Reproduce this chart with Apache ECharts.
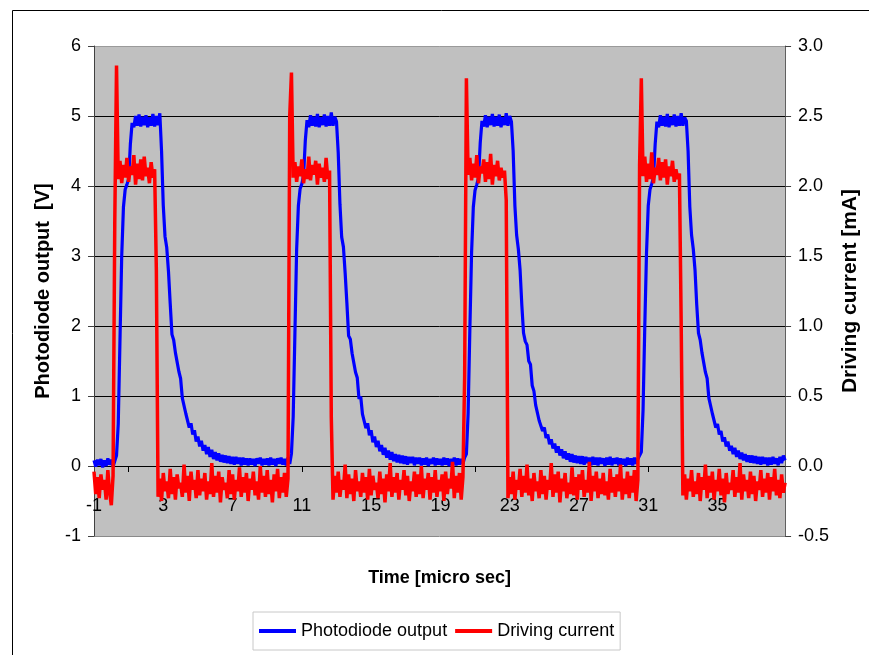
<!DOCTYPE html>
<html>
<head>
<meta charset="utf-8">
<title>Photodiode output / Driving current</title>
<script src="https://cdn.jsdelivr.net/npm/echarts@6.0.0/dist/echarts.min.js"></script>
<style>
  html, body { margin: 0; padding: 0; background: #fff; }
  #chart { width: 869px; height: 655px; }
</style>
</head>
<body>
<div id="chart"></div>
<script>
// time axis: -1.0 .. 38.9 micro sec, one sample every 0.1
var timeStart = -1;
var timeStep = 0.1;
var sampleCount = 400;

// photodiode output [V], 10 samples (1 micro sec) per line
var photodiode = [
  0.08, -0.01, 0.09, 0.01, 0.10, -0.02, 0.08, 0.00, 0.11, 0.02,
  0.09, -0.01, 0.07, 0.15, 0.60, 1.80, 3.00, 3.70, 3.95, 4.02,
  4.10, 4.60, 4.90, 4.84, 5.00, 4.86, 5.02, 4.85, 4.99, 4.87,
  5.01, 4.84, 4.98, 4.86, 5.03, 4.85, 5.00, 4.87, 5.04, 4.50,
  3.72, 3.28, 3.12, 2.78, 2.32, 1.88, 1.80, 1.62, 1.60, 1.35,
  1.25, 0.97, 0.98, 0.75, 0.76, 0.55, 0.61, 0.45, 0.51, 0.35,
  0.42, 0.28, 0.36, 0.22, 0.30, 0.17, 0.27, 0.13, 0.23, 0.10,
  0.20, 0.08, 0.18, 0.06, 0.16, 0.05, 0.15, 0.04, 0.14, 0.03,
  0.13, 0.02, 0.13, 0.03, 0.12, 0.01, 0.12, 0.02, 0.11, 0.01,
  0.11, 0.02, 0.10, 0.00, 0.11, 0.03, 0.12, 0.01, 0.10, 0.02,
  0.11, 0.01, 0.12, 0.02, 0.10, 0.00, 0.11, 0.03, 0.12, 0.02,
  0.10, 0.01, 0.12, 0.03, 0.18, 0.70, 1.90, 3.10, 3.72, 3.96,
  4.03, 4.15, 4.65, 4.94, 4.84, 5.01, 4.86, 4.99, 4.85, 5.03,
  4.84, 4.98, 4.87, 5.02, 4.85, 5.00, 4.86, 5.05, 4.86, 4.99,
  4.92, 4.48, 3.74, 3.27, 3.13, 2.76, 2.33, 1.86, 1.81, 1.61,
  1.60, 1.34, 1.26, 0.96, 0.99, 0.74, 0.76, 0.54, 0.61, 0.44,
  0.51, 0.34, 0.42, 0.27, 0.36, 0.21, 0.30, 0.16, 0.26, 0.12,
  0.22, 0.09, 0.20, 0.07, 0.17, 0.05, 0.16, 0.04, 0.15, 0.03,
  0.14, 0.02, 0.13, 0.04, 0.13, 0.01, 0.12, 0.03, 0.12, 0.01,
  0.11, 0.02, 0.12, 0.00, 0.10, 0.03, 0.12, 0.01, 0.11, 0.02,
  0.10, 0.01, 0.12, 0.02, 0.11, 0.00, 0.10, 0.03, 0.12, 0.01,
  0.11, 0.02, 0.10, 0.03, 0.12, 0.17, 0.75, 1.95, 3.05, 3.70,
  3.94, 4.02, 4.12, 4.62, 4.93, 4.85, 5.01, 4.84, 4.99, 4.87,
  5.03, 4.85, 4.99, 4.86, 5.02, 4.84, 4.98, 4.87, 5.04, 4.86,
  5.00, 4.92, 4.50, 3.72, 3.30, 3.10, 2.80, 2.30, 1.90, 1.78,
  1.73, 1.50, 1.45, 1.15, 1.07, 0.87, 0.85, 0.65, 0.65, 0.50,
  0.55, 0.40, 0.45, 0.31, 0.38, 0.25, 0.32, 0.19, 0.28, 0.15,
  0.24, 0.11, 0.21, 0.09, 0.18, 0.06, 0.17, 0.05, 0.15, 0.04,
  0.14, 0.03, 0.14, 0.02, 0.13, 0.04, 0.12, 0.01, 0.13, 0.02,
  0.12, 0.01, 0.12, 0.03, 0.11, 0.00, 0.12, 0.02, 0.13, 0.01,
  0.11, 0.03, 0.12, 0.01, 0.11, 0.02, 0.10, 0.00, 0.12, 0.02,
  0.11, 0.01, 0.12, 0.03, 0.10, 0.12, 0.20, 0.80, 2.00, 3.05,
  3.72, 3.95, 4.03, 4.12, 4.60, 4.92, 4.84, 5.01, 4.86, 4.99,
  4.85, 5.03, 4.84, 4.98, 4.87, 5.02, 4.85, 5.00, 4.86, 5.04,
  4.86, 4.98, 4.93, 4.50, 3.70, 3.30, 3.10, 2.80, 2.30, 1.90,
  1.80, 1.62, 1.60, 1.34, 1.25, 0.97, 0.97, 0.75, 0.75, 0.55,
  0.60, 0.45, 0.50, 0.35, 0.41, 0.28, 0.35, 0.22, 0.29, 0.17,
  0.26, 0.13, 0.22, 0.10, 0.19, 0.08, 0.17, 0.06, 0.15, 0.05,
  0.15, 0.04, 0.14, 0.03, 0.13, 0.02, 0.13, 0.03, 0.12, 0.01,
  0.12, 0.02, 0.13, 0.03, 0.11, 0.01, 0.13, 0.04, 0.15, 0.08
];

// driving current [mA], same sampling
var drivingCurrent = [
  -0.04, -0.20, -0.08, -0.23, -0.06, -0.17, -0.10, -0.24, -0.03, -0.19,
  -0.28, -0.07, 1.75, 2.86, 2.05, 2.18, 2.02, 2.15, 2.06, 2.20,
  2.03, 2.14, 2.08, 2.22, 2.01, 2.16, 2.05, 2.19, 2.04, 2.21,
  2.07, 2.13, 2.02, 2.17, 2.06, 2.12, 1.40, -0.22, -0.09, -0.25,
  -0.05, -0.18, -0.11, -0.23, -0.02, -0.20, -0.08, -0.24, -0.06, -0.16,
  -0.12, -0.22, 0.01, -0.19, -0.07, -0.25, -0.04, -0.17, -0.10, -0.23,
  -0.03, -0.21, -0.09, -0.18, -0.05, -0.24, -0.11, -0.20, 0.02, -0.22,
  -0.07, -0.19, -0.04, -0.26, -0.08, -0.17, -0.12, -0.23, -0.03, -0.20,
  -0.06, -0.24, -0.10, -0.18, -0.01, -0.22, -0.08, -0.19, -0.05, -0.25,
  -0.09, -0.17, -0.04, -0.21, -0.11, -0.24, 0.00, -0.19, -0.07, -0.22,
  -0.03, -0.20, -0.10, -0.26, -0.06, -0.18, -0.02, -0.23, -0.08, -0.19,
  -0.05, -0.22, -0.09, 2.50, 2.81, 2.06, 2.17, 2.03, 2.14, 2.07,
  2.19, 2.02, 2.12, 2.05, 2.21, 2.04, 2.15, 2.08, 2.18, 2.01,
  2.16, 2.06, 2.13, 2.03, 2.20, 2.05, 2.11, 0.35, -0.24, -0.07,
  -0.19, -0.04, -0.22, -0.10, -0.17, 0.01, -0.23, -0.06, -0.20, -0.09,
  -0.25, -0.03, -0.18, -0.11, -0.22, -0.05, -0.19, -0.08, -0.24, -0.02,
  -0.21, -0.07, -0.17, -0.12, -0.23, -0.04, -0.20, -0.09, -0.26, -0.06,
  -0.18, 0.02, -0.22, -0.08, -0.19, -0.05, -0.24, -0.10, -0.17, -0.03,
  -0.21, -0.07, -0.25, -0.11, -0.18, -0.04, -0.22, -0.06, -0.20, 0.00,
  -0.23, -0.09, -0.17, -0.05, -0.24, -0.08, -0.19, -0.03, -0.22, -0.10,
  -0.18, -0.06, -0.25, -0.04, -0.20, -0.09, -0.16, 0.03, -0.23, -0.07,
  -0.19, -0.05, -0.24, -0.08, 0.64, 2.77, 2.08, 2.20, 2.04, 2.16,
  2.06, 2.22, 2.02, 2.14, 2.09, 2.19, 2.03, 2.17, 2.05, 2.23,
  2.01, 2.15, 2.07, 2.18, 2.04, 2.13, 2.06, 2.11, 1.90, -0.23,
  -0.08, -0.20, -0.04, -0.24, -0.10, -0.17, -0.02, -0.22, -0.07, -0.19,
  0.01, -0.21, -0.09, -0.25, -0.05, -0.18, -0.11, -0.23, -0.03, -0.20,
  -0.07, -0.24, -0.10, -0.17, 0.02, -0.22, -0.06, -0.19, -0.04, -0.26,
  -0.09, -0.18, -0.05, -0.23, -0.12, -0.20, -0.01, -0.21, -0.08, -0.24,
  -0.06, -0.17, -0.03, -0.22, -0.10, -0.19, 0.03, -0.25, -0.07, -0.18,
  -0.04, -0.23, -0.09, -0.20, -0.05, -0.21, -0.11, -0.24, -0.02, -0.19,
  -0.08, -0.22, -0.06, -0.18, 0.01, -0.24, -0.09, -0.20, -0.04, -0.23,
  -0.07, -0.19, -0.03, -0.25, -0.10, 2.15, 2.77, 2.07, 2.21, 2.03,
  2.16, 2.05, 2.24, 2.02, 2.13, 2.08, 2.20, 2.04, 2.17, 2.06,
  2.19, 2.01, 2.14, 2.07, 2.18, 2.03, 2.12, 2.05, 2.09, 1.03,
  -0.21, -0.06, -0.24, -0.09, -0.18, -0.03, -0.22, -0.11, -0.20, -0.05,
  -0.25, -0.08, -0.17, 0.01, -0.23, -0.07, -0.19, -0.04, -0.24, -0.10,
  -0.18, -0.02, -0.21, -0.09, -0.26, -0.05, -0.20, -0.12, -0.17, -0.03,
  -0.22, -0.08, -0.19, 0.02, -0.24, -0.06, -0.18, -0.10, -0.23, -0.04,
  -0.20, -0.07, -0.25, -0.11, -0.17, -0.03, -0.22, -0.09, -0.19, -0.05,
  -0.24, -0.08, -0.18, -0.02, -0.21, -0.10, -0.23, -0.06, -0.19, -0.12
];

var seriesNames = ["Photodiode output", "Driving current"];

var times = [];
for (var i = 0; i < sampleCount; i++) {
  times.push((timeStart + i * timeStep).toFixed(1));
}

var font = "'Liberation Sans', Arial, sans-serif";
var chart = echarts.init(document.getElementById("chart"), null, { renderer: "canvas" });

var option = {
  animation: false,
  backgroundColor: "#ffffff",
  textStyle: { fontFamily: font },
  graphic: [
    {
      type: "rect",
      shape: { x: 12.5, y: 10.5, width: 900, height: 700 },
      style: { fill: "none", stroke: "#000", lineWidth: 1 },
      silent: true
    }
  ],
  grid: {
    left: 94,
    right: 83,
    top: 46,
    bottom: 119,
    show: true,
    backgroundColor: "#c0c0c0",
    borderWidth: 0
  },
  legend: {
    data: seriesNames,
    left: 253,
    top: 612,
    icon: "rect",
    itemWidth: 37,
    itemHeight: 4,
    itemGap: 8,
    padding: [10, 6],
    borderColor: "#c8c8c8",
    borderWidth: 1,
    textStyle: { fontSize: 18, color: "#000", fontFamily: font }
  },
  xAxis: {
    type: "category",
    data: times,
    boundaryGap: false,
    // axis crosses the left axis at 0 V: one unit (1/7 of the plot) above the bottom
    offset: -70,
    name: "Time [micro sec]",
    nameLocation: "middle",
    nameGap: 103,
    nameTextStyle: { fontSize: 18, fontWeight: "bold", color: "#000", fontFamily: font },
    axisLine: { onZero: false, lineStyle: { color: "#000", width: 1 } },
    axisTick: {
      interval: function (idx) { return idx % 100 === 20; },
      length: 6,
      lineStyle: { color: "#000" }
    },
    axisLabel: {
      interval: function (idx) { return idx % 40 === 0; },
      formatter: function (v) { return String(Math.round(Number(v))); },
      margin: 31,
      fontSize: 18,
      color: "#000",
      fontFamily: font
    },
    splitLine: { show: false }
  },
  yAxis: [
    {
      type: "value",
      position: "left",
      min: -1,
      max: 6,
      interval: 1,
      name: "Photodiode output  [V]",
      nameLocation: "middle",
      nameRotate: 90,
      nameGap: 41,
      nameTextStyle: { fontSize: 20, fontWeight: "bold", color: "#000", fontFamily: font },
      axisLine: { show: true, lineStyle: { color: "#404040", width: 1 } },
      axisTick: { show: true, length: 6, lineStyle: { color: "#404040" } },
      axisLabel: { margin: 13, fontSize: 18, color: "#000", fontFamily: font },
      splitLine: {
        show: true,
        lineStyle: {
          color: ["#8a8a8a", "#000", "#000", "#000", "#000", "#000", "#000", "#9a9a9a"],
          width: 1
        }
      }
    },
    {
      type: "value",
      position: "right",
      min: -0.5,
      max: 3,
      interval: 0.5,
      name: "Driving current [mA]",
      nameLocation: "middle",
      nameRotate: 90,
      nameGap: 54,
      nameTextStyle: { fontSize: 21, fontWeight: "bold", color: "#000", fontFamily: font },
      axisLine: { show: true, lineStyle: { color: "#606060", width: 1 } },
      axisTick: { show: true, length: 6, lineStyle: { color: "#404040" } },
      axisLabel: {
        margin: 13,
        fontSize: 18,
        color: "#000",
        fontFamily: font,
        formatter: function (v) { return v.toFixed(1); }
      },
      splitLine: { show: false }
    }
  ],
  series: [
    {
      name: seriesNames[0],
      type: "line",
      yAxisIndex: 0,
      data: photodiode,
      symbol: "none",
      showSymbol: false,
      lineStyle: { color: "#0000ff", width: 3.2 },
      itemStyle: { color: "#0000ff" }
    },
    {
      name: seriesNames[1],
      type: "line",
      yAxisIndex: 1,
      data: drivingCurrent,
      symbol: "none",
      showSymbol: false,
      lineStyle: { color: "#ff0000", width: 3.5 },
      itemStyle: { color: "#ff0000" }
    }
  ]
};

chart.setOption(option);
</script>
</body>
</html>
